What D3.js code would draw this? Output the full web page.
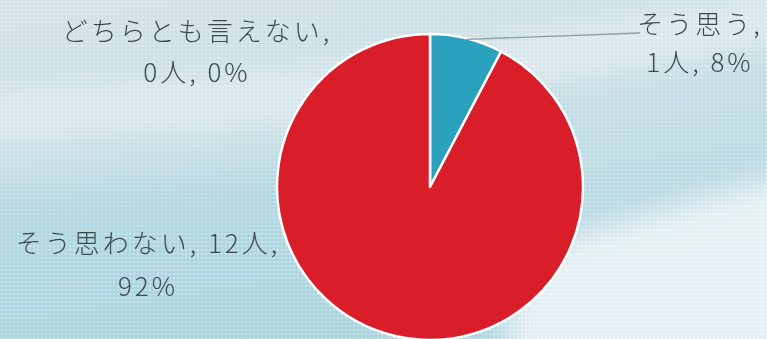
<!DOCTYPE html>
<html>
<head>
<meta charset="utf-8">
<script src="https://cdn.jsdelivr.net/npm/d3@7/dist/d3.min.js"></script>
<style>
  html, body { margin: 0; padding: 0; background: #c9dfe5; }
  svg { display: block; }
</style>
</head>
<body>
<svg id="chart" width="767" height="339"></svg>
<script>
// Survey answers: category names, head counts, percentages
const categories = ["そう思う", "そう思わない", "どちらとも言えない"];
const counts = [1, 12, 0];
const percents = [8, 92, 0];
const colors = ["#2aa1bd", "#d91e29", "#9bbcc6"];

const W = 767, H = 339;
const svg = d3.select("#chart");
const defs = svg.append("defs");

// ---- textured background ----
const bg = defs.append("linearGradient").attr("id", "bgGrad")
  .attr("x1", "0").attr("y1", "0").attr("x2", "0.35").attr("y2", "1");
bg.append("stop").attr("offset", "0").attr("stop-color", "#d3e2e7");
bg.append("stop").attr("offset", "0.45").attr("stop-color", "#c6dfe6");
bg.append("stop").attr("offset", "1").attr("stop-color", "#afd6e0");

const blur = defs.append("filter").attr("id", "soft")
  .attr("x", "-20%").attr("y", "-20%").attr("width", "140%").attr("height", "140%");
blur.append("feGaussianBlur").attr("stdDeviation", 14);

const dots = defs.append("pattern").attr("id", "dots")
  .attr("width", 4).attr("height", 4).attr("patternUnits", "userSpaceOnUse");
dots.append("circle").attr("cx", 2).attr("cy", 2).attr("r", 1.1).attr("fill", "#ffffff");

svg.append("rect").attr("width", W).attr("height", H).attr("fill", "url(#bgGrad)");

const haze = svg.append("g").attr("filter", "url(#soft)");
// lighter diagonal band across the upper half
haze.append("path")
  .attr("d", "M-40,95 L300,70 L800,-10 L800,40 L300,125 L-40,140 Z")
  .attr("fill", "#e2edf0").attr("opacity", 0.7);
// pale sweep in the lower right
haze.append("path")
  .attr("d", "M520,250 L800,170 L800,360 L500,360 Z")
  .attr("fill", "#eaf3f5").attr("opacity", 0.9);
// deeper cyan wash at the lower left
haze.append("path")
  .attr("d", "M-40,190 L330,170 L380,360 L-40,360 Z")
  .attr("fill", "#a6d3de").attr("opacity", 0.5);

svg.append("rect").attr("width", W).attr("height", H)
  .attr("fill", "url(#dots)").attr("opacity", 0.4);

// ---- pie ----
const cx = 430, cy = 187, r = 153;
const data = categories.map((c, i) => ({ name: c, count: counts[i], pct: percents[i], color: colors[i] }));

const pie = d3.pie().value(d => d.count).sort(null);
const arc = d3.arc().innerRadius(0).outerRadius(r);
const arcs = pie(data);

const g = svg.append("g").attr("transform", `translate(${cx},${cy})`);
g.selectAll("path.slice")
  .data(arcs.filter(a => a.data.count > 0))
  .join("path")
  .attr("class", "slice")
  .attr("d", arc)
  .attr("fill", d => d.data.color)
  .attr("stroke", "#ffffff")
  .attr("stroke-width", 2.5)
  .attr("stroke-linejoin", "round");

// leader line for the small slice
const first = arcs[0];
const midA = (first.startAngle + first.endAngle) / 2;
const p0 = [cx + Math.sin(midA) * (r - 2), cy - Math.cos(midA) * (r - 2)];
svg.append("line")
  .attr("x1", p0[0]).attr("y1", p0[1] - 1)
  .attr("x2", 640).attr("y2", 33)
  .attr("stroke", "#8f9ea3").attr("stroke-width", 1.4);

// ---- labels ----
const font = "'Noto Sans CJK JP', 'Noto Sans', sans-serif";
const labelPos = [
  { x: 700, y1: 34, y2: 72 },   // そう思う
  { x: 148, y1: 253, y2: 296 }, // そう思わない
  { x: 197, y1: 41, y2: 82 }    // どちらとも言えない
];

data.forEach((d, i) => {
  const p = labelPos[i];
  let line1, line2;
  if (i === 1) {
    line1 = `${d.name}, ${d.count}人,`;
    line2 = `${d.pct}%`;
  } else {
    line1 = `${d.name},`;
    line2 = `${d.count}人, ${d.pct}%`;
  }
  const t = svg.append("text")
    .attr("font-family", font)
    .attr("font-size", 26)
    .attr("font-weight", 300)
    .attr("letter-spacing", 3)
    .attr("fill", "#3c4a51")
    .attr("text-anchor", "middle");
  t.append("tspan").attr("x", p.x).attr("y", p.y1).text(line1);
  t.append("tspan").attr("x", p.x).attr("y", p.y2).text(line2);
});
</script>
</body>
</html>
